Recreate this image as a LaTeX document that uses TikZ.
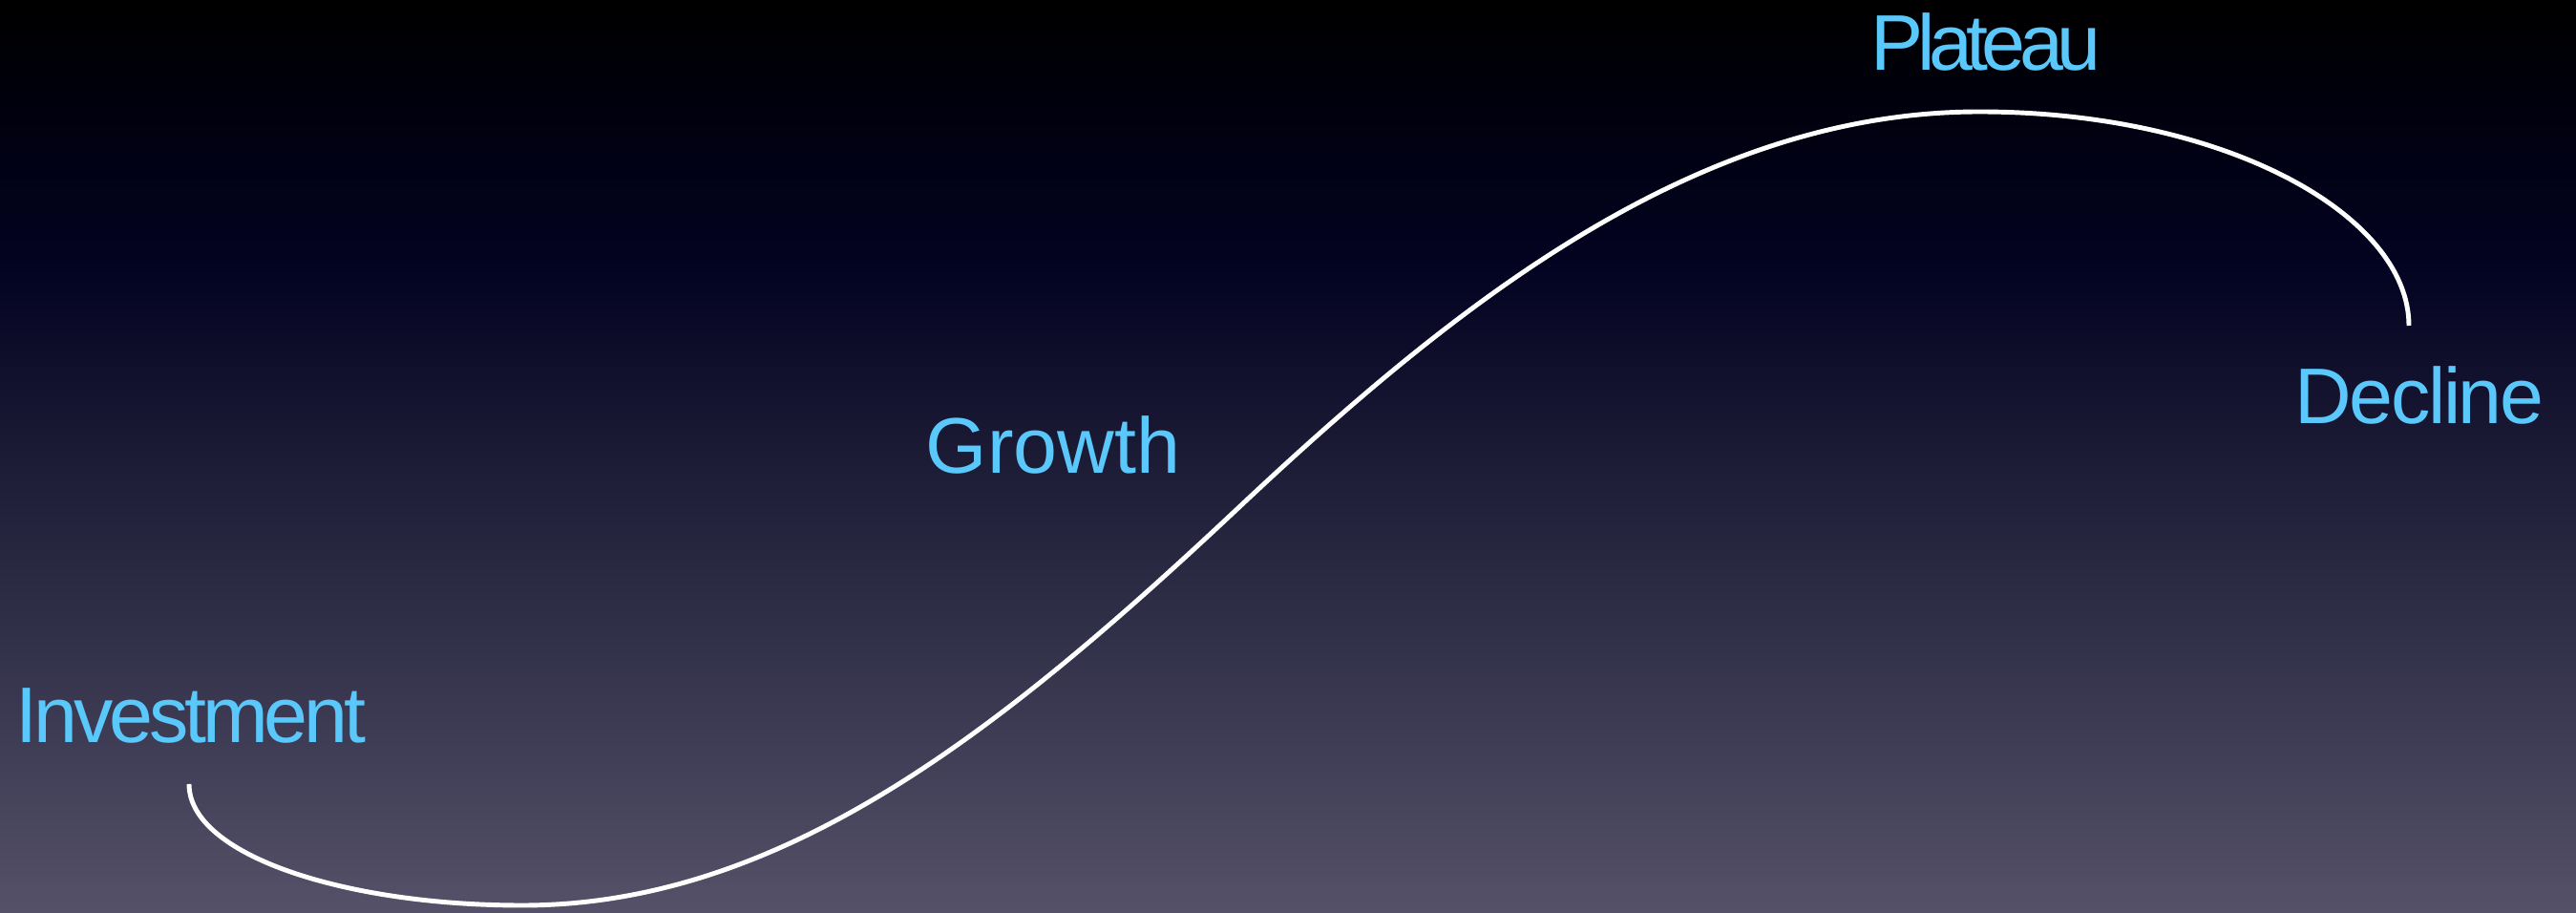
\documentclass[tikz,border=0pt]{standalone}
\usepackage{fontspec}
\setmainfont{Liberation Sans}
\usetikzlibrary{positioning}

\definecolor{skybot}{RGB}{84,81,104}
\definecolor{skymid}{RGB}{30,30,56}
\definecolor{skynavy}{RGB}{3,3,34}
\definecolor{skydark}{RGB}{0,0,12}
\definecolor{phase}{RGB}{90,200,250}
\pgfdeclareverticalshading{sky}{100bp}{color(0bp)=(skybot); color(25bp)=(skybot); color(48.8bp)=(skymid); color(60.3bp)=(skynavy); color(69.8bp)=(skydark); color(75bp)=(black); color(100bp)=(black)}

\begin{document}
\begin{tikzpicture}[every node/.style={text=phase, font=\fontsize{23.5}{28}\selectfont, anchor=base, inner sep=0pt}]
\useasboundingbox (0,0) rectangle (26.98,9.55);
\shade[shading=sky] (0,0) rectangle (26.98,9.55);
\node (invest) at (2.00,1.77) {\addfontfeatures{LetterSpace=-5}Investment};
\node (growth) at (11.03,4.59) {Growth};
\node (plateau) at (20.80,8.81) {\addfontfeatures{LetterSpace=-8}Plateau};
\node (decline) at (25.34,5.11) {\addfontfeatures{LetterSpace=-3}Decline};
\coordinate (start) at (1.98,1.34);
\coordinate (low) at (5.47,0.07);
\coordinate (mid) at (13.0,4.26);
\coordinate (high) at (20.73,8.38);
\coordinate (stop) at (25.23,6.14);
\draw[white, line width=1.4pt] (start) .. controls (1.98,0.6) and (3.6,0.07) .. (low)
  .. controls (8.2,0.07) and (10.5,1.91) .. (mid)
  .. controls (15.3,6.42) and (17.8,8.38) .. (high)
  .. controls (23.3,8.38) and (25.23,7.3) .. (stop);
\end{tikzpicture}
\end{document}
